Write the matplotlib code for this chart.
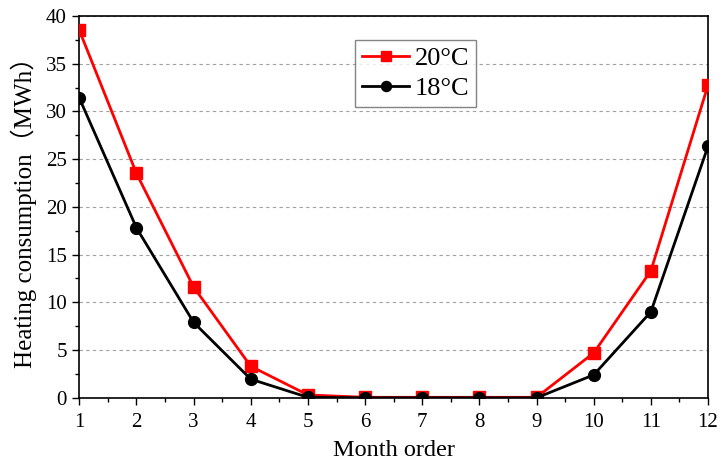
import matplotlib
matplotlib.use("Agg")
import matplotlib.pyplot as plt
from matplotlib.ticker import MultipleLocator

months = list(range(1, 13))
heat_20 = [38.5, 23.5, 11.6, 3.3, 0.3, 0.05, 0.05, 0.05, 0.05, 4.7, 13.3, 32.75]
heat_18 = [31.4, 17.8, 7.9, 1.95, 0.05, 0.0, 0.0, 0.0, 0.0, 2.4, 9.0, 26.35]

plt.rcParams['font.family'] = ['Liberation Serif', 'Noto Sans CJK SC']

fig = plt.figure(figsize=(7.21, 4.68), dpi=100)
ax = fig.add_axes([0.110, 0.150, 0.872, 0.816])

ax.plot(months, heat_20, color='#ff0000', marker='s', markersize=8.5, linewidth=2.0, label='20°C', zorder=3)
ax.plot(months, heat_18, color='black', marker='o', markersize=8.5, linewidth=2.0, label='18°C', zorder=3)

ax.set_xlim(1, 12)
ax.set_ylim(0, 40)
ax.set_xticks(months)
ax.xaxis.set_minor_locator(MultipleLocator(0.5))
ax.yaxis.set_major_locator(MultipleLocator(5))
ax.yaxis.set_minor_locator(MultipleLocator(2.5))
ax.tick_params(which='major', direction='out', length=5, width=1, labelsize=15)
ax.tick_params(axis='x', which='major', pad=6)
ax.tick_params(axis='y', which='major', pad=4)
ax.tick_params(which='minor', direction='out', length=3, width=1)
ax.yaxis.grid(True, linestyle=(0, (3, 3)), color='#a0a0a0', linewidth=0.8)
ax.set_axisbelow(True)
for s in ax.spines.values():
    s.set_linewidth(1.2)

ax.set_xlabel('Month order', fontsize=17.5, labelpad=6)
ax.set_ylabel('Heating consumption（MWh）', fontsize=18, labelpad=6)

leg = ax.legend(loc='upper left', bbox_to_anchor=(0.439, 0.937), borderaxespad=0,
                fontsize=19, frameon=True, fancybox=False, edgecolor='#666666',
                handlelength=1.8, borderpad=0.25, labelspacing=0.25, handletextpad=0.2,
                markerscale=0.85)
leg.get_frame().set_linewidth(1.0)

fig.savefig('out.png', dpi=100, facecolor='w')
